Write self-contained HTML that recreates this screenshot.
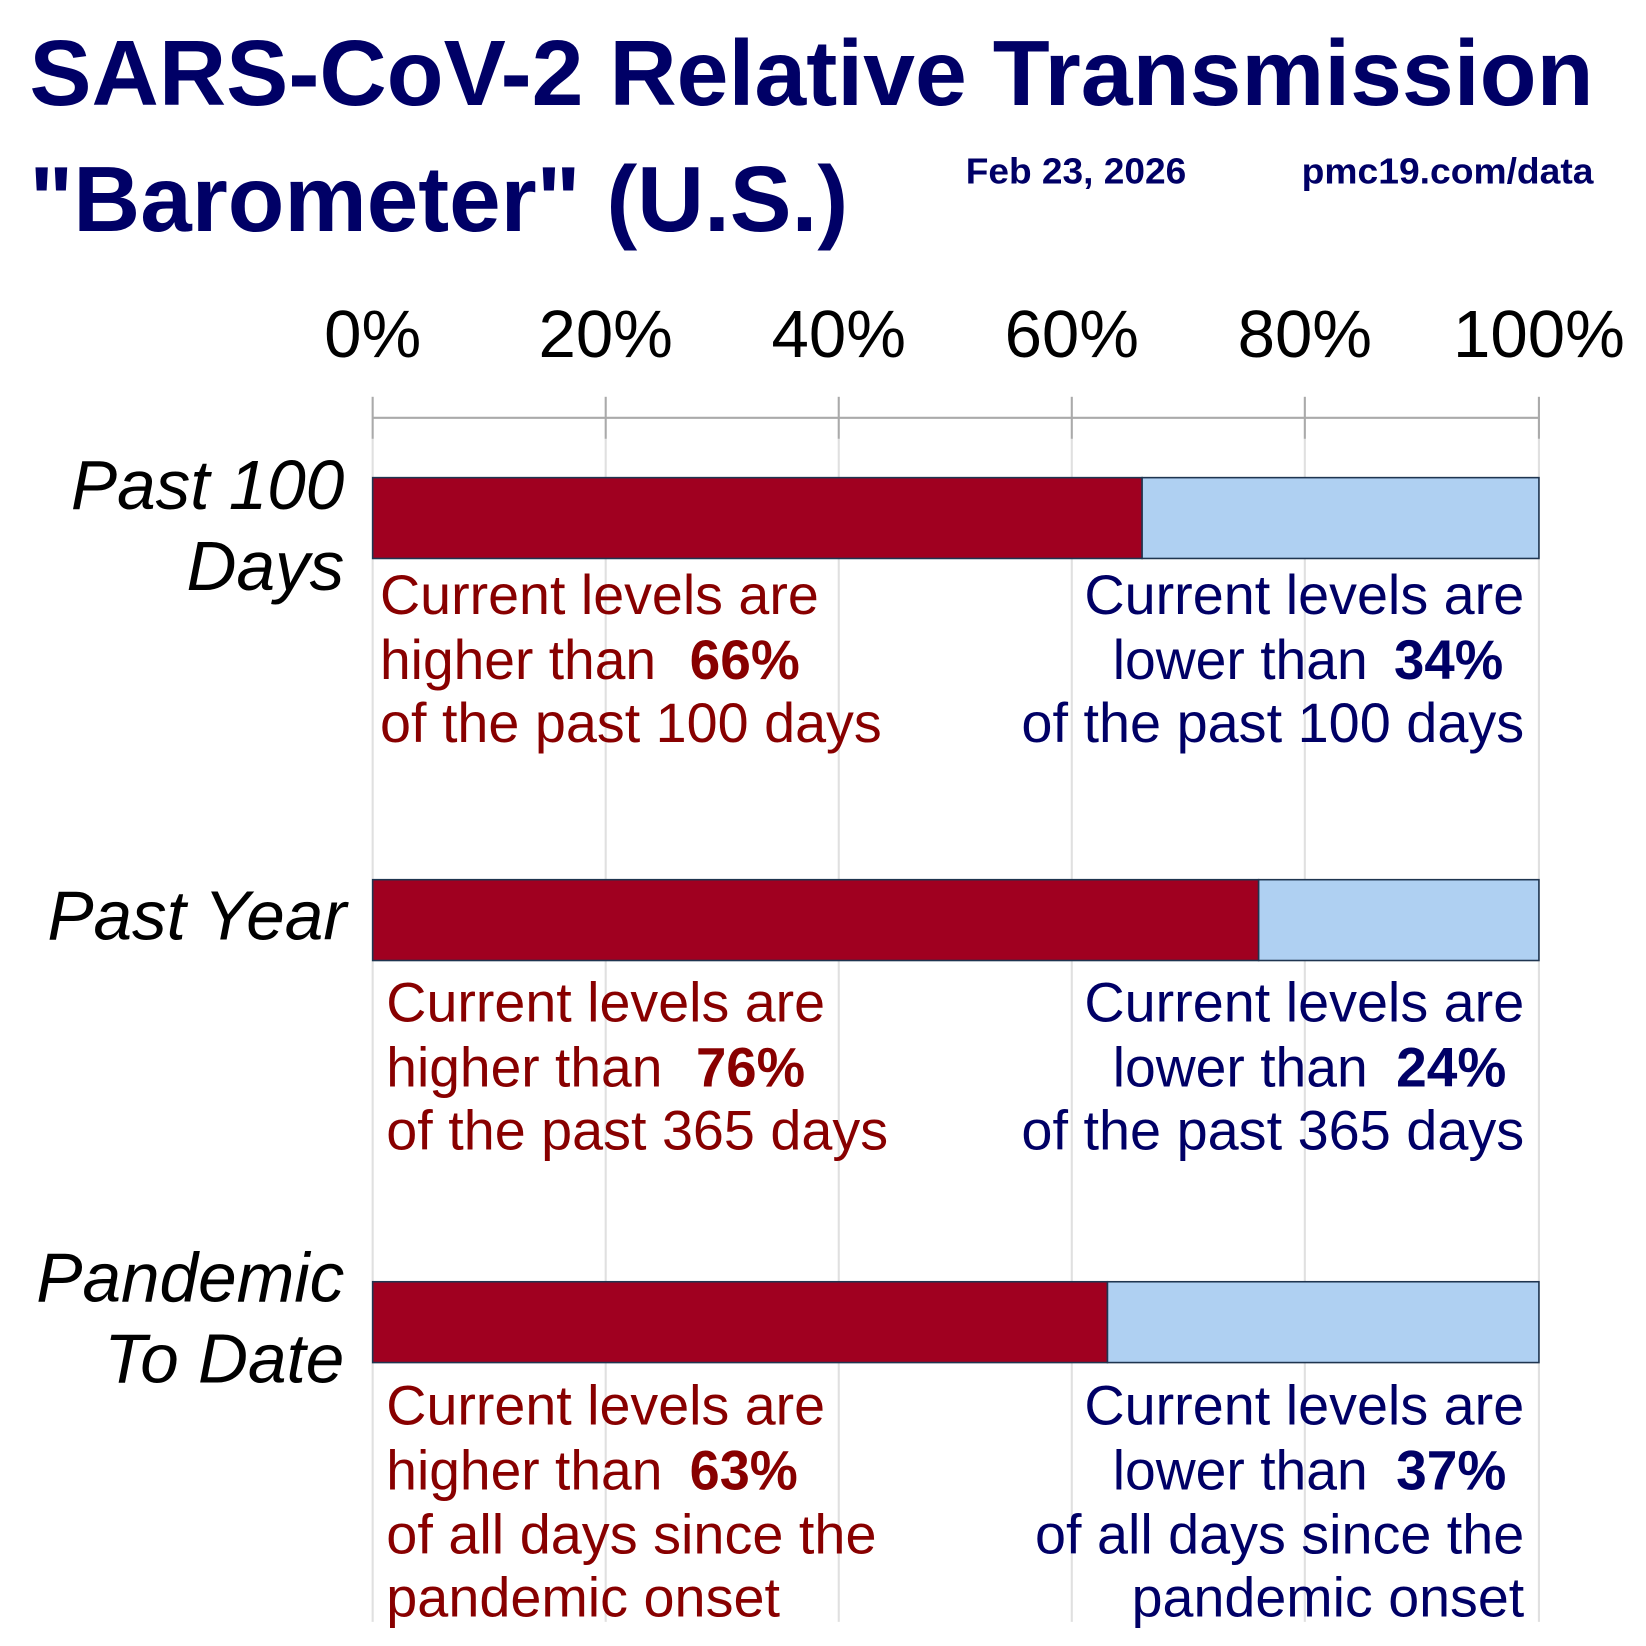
<!DOCTYPE html>
<html><head><meta charset="utf-8"><style>html,body{margin:0;padding:0;background:#fff}svg{display:block}</style></head>
<body>
<svg width="1646" height="1646" viewBox="0 0 1568 1568" xmlns="http://www.w3.org/2000/svg" font-family="Liberation Sans, Arial, sans-serif">
<rect width="1568" height="1568" fill="#fff"/>
<g fill="#000066" font-weight="bold">
<text x="28" y="100" font-size="88" textLength="1490" lengthAdjust="spacingAndGlyphs">SARS-CoV-2 Relative Transmission</text>
<text x="28" y="220" font-size="88" textLength="780" lengthAdjust="spacingAndGlyphs">"Barometer" (U.S.)</text>
<text x="920" y="175" font-size="34" textLength="210" lengthAdjust="spacingAndGlyphs">Feb 23, 2026</text>
<text x="1240" y="175" font-size="34" textLength="278" lengthAdjust="spacingAndGlyphs">pmc19.com/data</text>
</g>
<g font-size="64" fill="#000" text-anchor="middle">
<text x="355" y="340">0%</text><text x="577" y="340">20%</text><text x="799" y="340">40%</text>
<text x="1021" y="340">60%</text><text x="1243" y="340">80%</text><text x="1466" y="340">100%</text>
</g>
<g stroke="#e0e0e0" stroke-width="2">
<line x1="355" y1="418" x2="355" y2="1545"/><line x1="577" y1="418" x2="577" y2="1545"/>
<line x1="799" y1="418" x2="799" y2="1545"/><line x1="1021" y1="418" x2="1021" y2="1545"/>
<line x1="1243" y1="418" x2="1243" y2="1545"/><line x1="1466" y1="418" x2="1466" y2="1545"/>
</g>
<g stroke="#aaa" stroke-width="2">
<line x1="355" y1="398" x2="1466" y2="398"/>
<line x1="355" y1="378" x2="355" y2="418"/><line x1="577" y1="378" x2="577" y2="418"/>
<line x1="799" y1="378" x2="799" y2="418"/><line x1="1021" y1="378" x2="1021" y2="418"/>
<line x1="1243" y1="378" x2="1243" y2="418"/><line x1="1466" y1="378" x2="1466" y2="418"/>
</g>
<g stroke="#1f3550" stroke-width="1.5">
<rect x="355" y="455" width="733" height="77" fill="#a00020"/>
<rect x="1088" y="455" width="378" height="77" fill="#afd0f2"/>
<rect x="355" y="838" width="844" height="77" fill="#a00020"/>
<rect x="1199" y="838" width="267" height="77" fill="#afd0f2"/>
<rect x="355" y="1221" width="700" height="77" fill="#a00020"/>
<rect x="1055" y="1221" width="411" height="77" fill="#afd0f2"/>
</g>
<g font-size="66" font-style="italic" fill="#000" text-anchor="end">
<text x="328" y="485">Past 100</text><text x="328" y="562">Days</text>
<text x="330" y="895">Past Year</text>
<text x="328" y="1240">Pandemic</text><text x="328" y="1317">To Date</text>
</g>
<g font-size="53" fill="#880000">
<text x="362" y="585" textLength="418" lengthAdjust="spacingAndGlyphs">Current levels are</text>
<text x="362" y="647" textLength="263" lengthAdjust="spacingAndGlyphs">higher than</text><text x="657" y="647" font-weight="bold" textLength="105" lengthAdjust="spacingAndGlyphs">66%</text>
<text x="362" y="707" textLength="478" lengthAdjust="spacingAndGlyphs">of the past 100 days</text>
<text x="368" y="973" textLength="418" lengthAdjust="spacingAndGlyphs">Current levels are</text>
<text x="368" y="1035" textLength="263" lengthAdjust="spacingAndGlyphs">higher than</text><text x="663" y="1035" font-weight="bold" textLength="104" lengthAdjust="spacingAndGlyphs">76%</text>
<text x="368" y="1095" textLength="478" lengthAdjust="spacingAndGlyphs">of the past 365 days</text>
<text x="368" y="1357" textLength="418" lengthAdjust="spacingAndGlyphs">Current levels are</text>
<text x="368" y="1419" textLength="263" lengthAdjust="spacingAndGlyphs">higher than</text><text x="657" y="1419" font-weight="bold" textLength="103" lengthAdjust="spacingAndGlyphs">63%</text>
<text x="368" y="1480" textLength="467" lengthAdjust="spacingAndGlyphs">of all days since the</text>
<text x="368" y="1540" textLength="375" lengthAdjust="spacingAndGlyphs">pandemic onset</text>
</g>
<g font-size="53" fill="#000066">
<text x="1033" y="585" textLength="419" lengthAdjust="spacingAndGlyphs">Current levels are</text>
<text x="1060" y="647" textLength="243" lengthAdjust="spacingAndGlyphs">lower than</text><text x="1328" y="647" font-weight="bold" textLength="104" lengthAdjust="spacingAndGlyphs">34%</text>
<text x="973" y="707" textLength="479" lengthAdjust="spacingAndGlyphs">of the past 100 days</text>
<text x="1033" y="973" textLength="419" lengthAdjust="spacingAndGlyphs">Current levels are</text>
<text x="1060" y="1035" textLength="243" lengthAdjust="spacingAndGlyphs">lower than</text><text x="1330" y="1035" font-weight="bold" textLength="105" lengthAdjust="spacingAndGlyphs">24%</text>
<text x="973" y="1095" textLength="479" lengthAdjust="spacingAndGlyphs">of the past 365 days</text>
<text x="1033" y="1357" textLength="419" lengthAdjust="spacingAndGlyphs">Current levels are</text>
<text x="1060" y="1419" textLength="243" lengthAdjust="spacingAndGlyphs">lower than</text><text x="1330" y="1419" font-weight="bold" textLength="105" lengthAdjust="spacingAndGlyphs">37%</text>
<text x="986" y="1480" textLength="466" lengthAdjust="spacingAndGlyphs">of all days since the</text>
<text x="1078" y="1540" textLength="374" lengthAdjust="spacingAndGlyphs">pandemic onset</text>
</g>
</svg>
</body></html>
